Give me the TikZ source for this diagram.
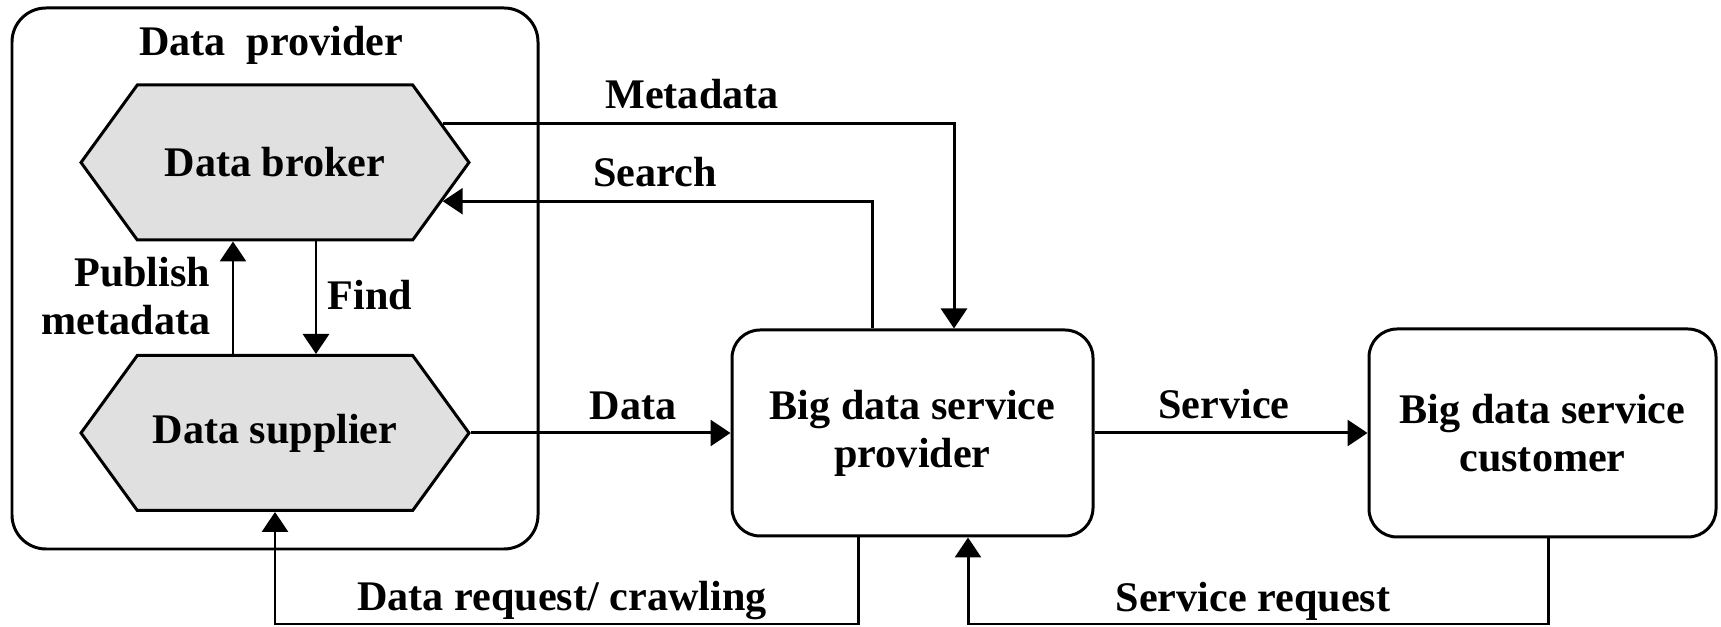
\documentclass[tikz,border=0pt]{standalone}
\usepackage{fontspec}
\setmainfont{Liberation Serif}
\usetikzlibrary{shapes.symbols}
\usetikzlibrary{arrows.meta}
\tikzset{
    hexnode/.style = {signal, signal to=east and west, signal pointer angle=108, line width=0.85pt, draw=black, fill=black!12, minimum width=3.88cm, minimum height=1.55cm, inner sep=0pt, font=\fontsize{12pt}{13.7pt}\selectfont\bfseries},
    boxnode/.style = {rectangle, rounded corners=0.28cm, line width=0.85pt, draw=black, align=center, inner sep=0pt, font=\fontsize{12pt}{13.7pt}\selectfont\bfseries},
    groupnode/.style = {rectangle, rounded corners=0.34cm, line width=0.85pt, draw=black, minimum width=5.26cm, minimum height=5.41cm},
    txtnode/.style = {inner sep=0pt, align=center, font=\fontsize{12pt}{13.7pt}\selectfont\bfseries},
    edgen/.style = {-{Triangle[length=0.2cm,width=0.26cm]}, line width=0.85pt}
}

\begin{document}
\begin{tikzpicture}
\useasboundingbox (0,0) rectangle (17.21,6.27);
%
\node[groupnode] at (2.75,3.485) (dp) {};
\node[txtnode,anchor=base] at (2.71,5.71) (dptxt) {Data~ provider};
\node[hexnode] at (2.75,4.645) (bro) {Data broker};
\node[hexnode] at (2.75,1.94) (sup) {Data supplier};
\node[boxnode,minimum width=3.61cm,minimum height=2.06cm] at (9.125,1.94) (prov) {Big data service\\provider};
\node[boxnode,minimum width=3.47cm,minimum height=2.08cm] at (15.425,1.94) (cust) {Big data service\\customer};
\coordinate (low) at (0,0.03);
%
\node[txtnode,anchor=east,align=right] at (2.11,3.31) (pubtxt) {Publish\\metadata};
\node[txtnode,anchor=base] at (3.70,3.17) (findtxt) {Find};
\node[txtnode,anchor=base] at (6.92,5.18) (metatxt) {Metadata};
\node[txtnode,anchor=base] at (6.55,4.40) (searchtxt) {Search};
\node[txtnode,anchor=base] at (6.33,2.07) (datatxt) {Data};
\node[txtnode,anchor=base] at (12.24,2.08) (servtxt) {Service};
\node[txtnode,anchor=base] at (5.62,0.16) (reqtxt) {Data request/ crawling};
\node[txtnode,anchor=base] at (12.53,0.15) (sreqtxt) {Service request};
%
\draw[edgen] ([xshift=-0.42cm]sup.north) -- ([xshift=-0.42cm]bro.south);
\draw[edgen] ([xshift=0.41cm]bro.south) -- ([xshift=0.41cm]sup.north);
\draw[edgen] (bro.13) -| ([xshift=0.415cm]prov.north);
\draw[edgen] ([xshift=-0.405cm]prov.north) |- (bro.-13);
\draw[edgen] (sup.east) -- (prov.west);
\draw[edgen] (prov.east) -- (cust.west);
\draw[edgen] ([xshift=-0.54cm]prov.south) -- ([xshift=-0.54cm]prov.south |- low) -| (sup.south);
\draw[edgen] ([xshift=0.055cm]cust.south) -- ([xshift=0.055cm]cust.south |- low) -| ([xshift=0.555cm]prov.south);

\end{tikzpicture}
\end{document}
